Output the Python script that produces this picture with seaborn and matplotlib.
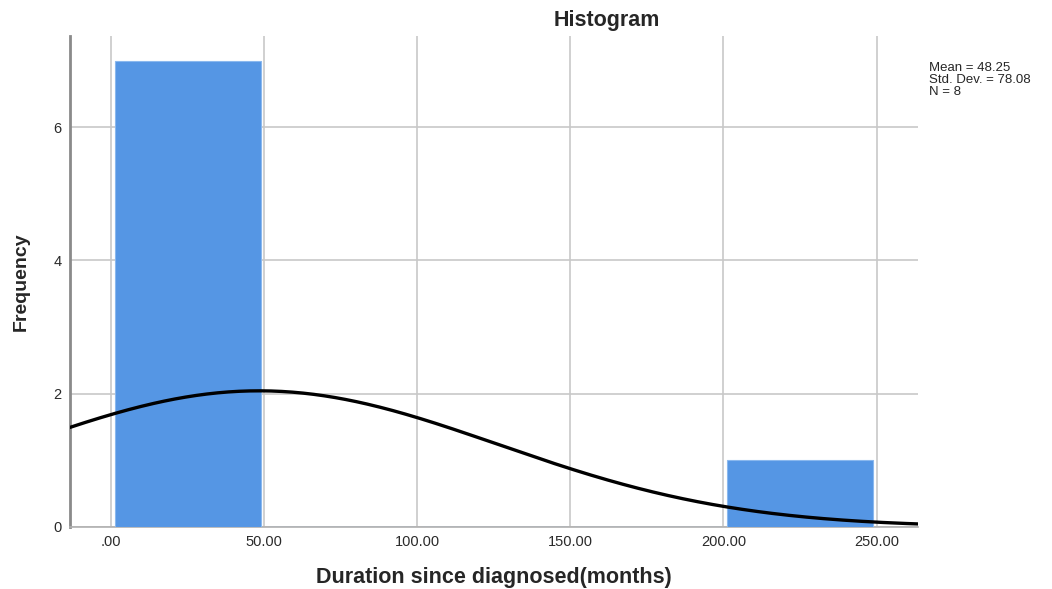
import numpy as np
import pandas as pd
import matplotlib.pyplot as plt
import seaborn as sns

sns.set_style("white")
plt.rcParams["font.family"] = ["Liberation Sans", "DejaVu Sans"]

# histogram bins and frequencies
bin_edges = [0, 50, 100, 150, 200, 250]
bin_centers = [25, 75, 125, 175, 225]
counts = [7, 0, 0, 0, 1]

# summary stats printed in the chart
mean_val = 48.25
std_val = 78.08
n_obs = 8

x_ticks = [0, 50, 100, 150, 200, 250]
x_tick_labels = [".00", "50.00", "100.00", "150.00", "200.00", "250.00"]
y_ticks = [0, 2, 4, 6]

BAR_COLOR = "#5596E4"

fig = plt.figure(figsize=(10.52, 5.89), dpi=100)
ax = fig.add_axes([0.0665, 0.1053, 0.806, 0.8336])

df = pd.DataFrame({"value": bin_centers, "count": counts})
sns.histplot(data=df, x="value", weights="count", bins=bin_edges,
             shrink=0.95, color=BAR_COLOR, alpha=1,
             edgecolor="#8ab8ee", linewidth=0.8, ax=ax, zorder=3)

# fitted normal curve (scaled to frequency)
xs = np.linspace(-14, 264, 400)
bw = bin_edges[1] - bin_edges[0]
ys = n_obs * bw / (std_val * np.sqrt(2 * np.pi)) * np.exp(-0.5 * ((xs - mean_val) / std_val) ** 2)
sns.lineplot(x=xs, y=ys, color="black", linewidth=2.4, ax=ax, zorder=4)

ax.set_xlim(-13.5, 263.5)
ax.set_ylim(0, 7.37)
ax.set_xticks(x_ticks)
ax.set_xticklabels(x_tick_labels)
ax.set_yticks(y_ticks)
ax.tick_params(length=0, labelsize=10.5, colors="#2a2a2a", pad=6)

ax.grid(True, color="#c8c8c8", linewidth=1.2, zorder=0)
ax.set_axisbelow(True)
for side in ["top", "right"]:
    ax.spines[side].set_visible(False)
ax.spines["left"].set_color("#8a8a8a")
ax.spines["left"].set_linewidth(2)
ax.spines["bottom"].set_color("#b0b0b0")
ax.spines["bottom"].set_linewidth(1.2)

ax.set_xlabel("Duration since diagnosed(months)", fontsize=15.5,
              fontweight="bold", labelpad=13)
ax.set_ylabel("Frequency", fontsize=14, fontweight="bold", labelpad=17)

fig.text(0.577, 0.966, "Histogram", ha="center", va="center",
         fontsize=15.5, fontweight="bold")
fig.text(0.883, 0.895, f"Mean = {mean_val:.2f}\nStd. Dev. = {std_val:.2f}\nN = {n_obs}",
         ha="left", va="top", fontsize=9.5, linespacing=1.02)

plt.savefig("out.png", dpi=100)
plt.close()
